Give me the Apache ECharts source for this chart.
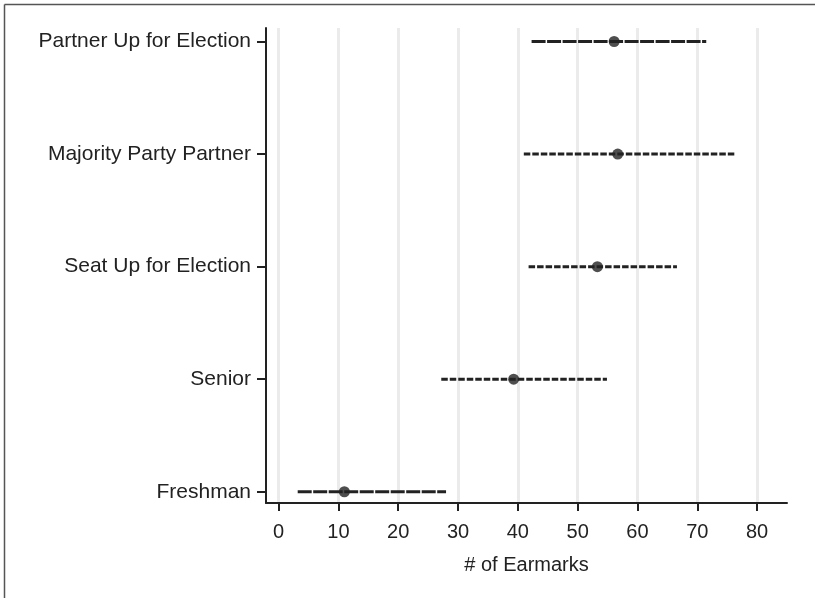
<!DOCTYPE html>
<html>
<head>
<meta charset="utf-8">
<script src="https://cdn.jsdelivr.net/npm/echarts@6/dist/echarts.min.js"></script>
<style>
  html, body { margin: 0; padding: 0; background: #fff; }
  #chart { width: 815px; height: 598px; }
</style>
</head>
<body>
<div id="chart"></div>
<script>
// Estimated earmark counts with intervals, one row per legislator group (bottom to top)
const categories = ['Freshman', 'Senior', 'Seat Up for Election', 'Majority Party Partner', 'Partner Up for Election'];
const estimates = [11.0, 39.3, 53.3, 56.7, 56.1];
const lowerBounds = [3.2, 27.2, 41.8, 41.0, 42.3];
const upperBounds = [28.0, 54.9, 66.6, 76.5, 71.5];
const xTicks = [0, 10, 20, 30, 40, 50, 60, 70, 80];
const rowIndex = [0, 1, 2, 3, 4];

const ink = '#222222';
const fontFamily = '"Liberation Sans", Arial, Helvetica, sans-serif';
// long dashes for the outer rows, short dashes for the middle rows
const dashFor = i => (i === 0 || i === 4) ? [14, 1.5] : [6.5, 2];

const intervalSeries = categories.map((name, i) => ({
  type: 'line',
  name: name,
  data: [[lowerBounds[i], i], [upperBounds[i], i]],
  symbol: 'none',
  silent: true,
  z: 2,
  lineStyle: { color: ink, width: 3, type: dashFor(i), cap: 'butt' }
}));

const chart = echarts.init(document.getElementById('chart'), null, { renderer: 'canvas' });
chart.setOption({
  animation: false,
  backgroundColor: '#ffffff',
  grid: { left: 266, right: 28, top: 28, bottom: 95, containLabel: false },
  xAxis: {
    type: 'value',
    min: -2.1,
    max: 85,
    name: '# of Earmarks',
    nameLocation: 'middle',
    nameGap: 52,
    nameTextStyle: { color: ink, fontSize: 20, fontFamily: fontFamily },
    axisLine: { show: true, onZero: false, lineStyle: { color: ink, width: 2 } },
    axisTick: { show: true, length: 8, customValues: xTicks, lineStyle: { color: ink, width: 2 } },
    axisLabel: { customValues: xTicks, color: ink, fontSize: 20, fontFamily: fontFamily, margin: 19 },
    splitLine: { show: true, lineStyle: { color: '#ebebeb', width: 3 } }
  },
  yAxis: {
    type: 'value',
    min: -0.1,
    max: 4.12,
    axisLine: { show: true, onZero: false, lineStyle: { color: ink, width: 2 } },
    axisTick: { show: true, length: 9, customValues: rowIndex, lineStyle: { color: ink, width: 2 } },
    axisLabel: {
      customValues: rowIndex,
      color: ink,
      fontSize: 21,
      fontFamily: fontFamily,
      margin: 15,
      formatter: v => categories[Math.round(v)]
    },
    splitLine: { show: false }
  },
  series: intervalSeries.concat([{
    type: 'scatter',
    name: 'Estimate',
    data: estimates.map((v, i) => [v, i]),
    symbol: 'circle',
    symbolSize: 11,
    z: 3,
    itemStyle: { color: ink }
  }]),
  graphic: [
    { type: 'line', shape: { x1: 4.5, y1: 4.5, x2: 4.5, y2: 598 }, style: { stroke: '#555555', lineWidth: 1.5 } },
    { type: 'line', shape: { x1: 4.5, y1: 4.5, x2: 815, y2: 4.5 }, style: { stroke: '#555555', lineWidth: 1.5 } }
  ]
});
</script>
</body>
</html>
